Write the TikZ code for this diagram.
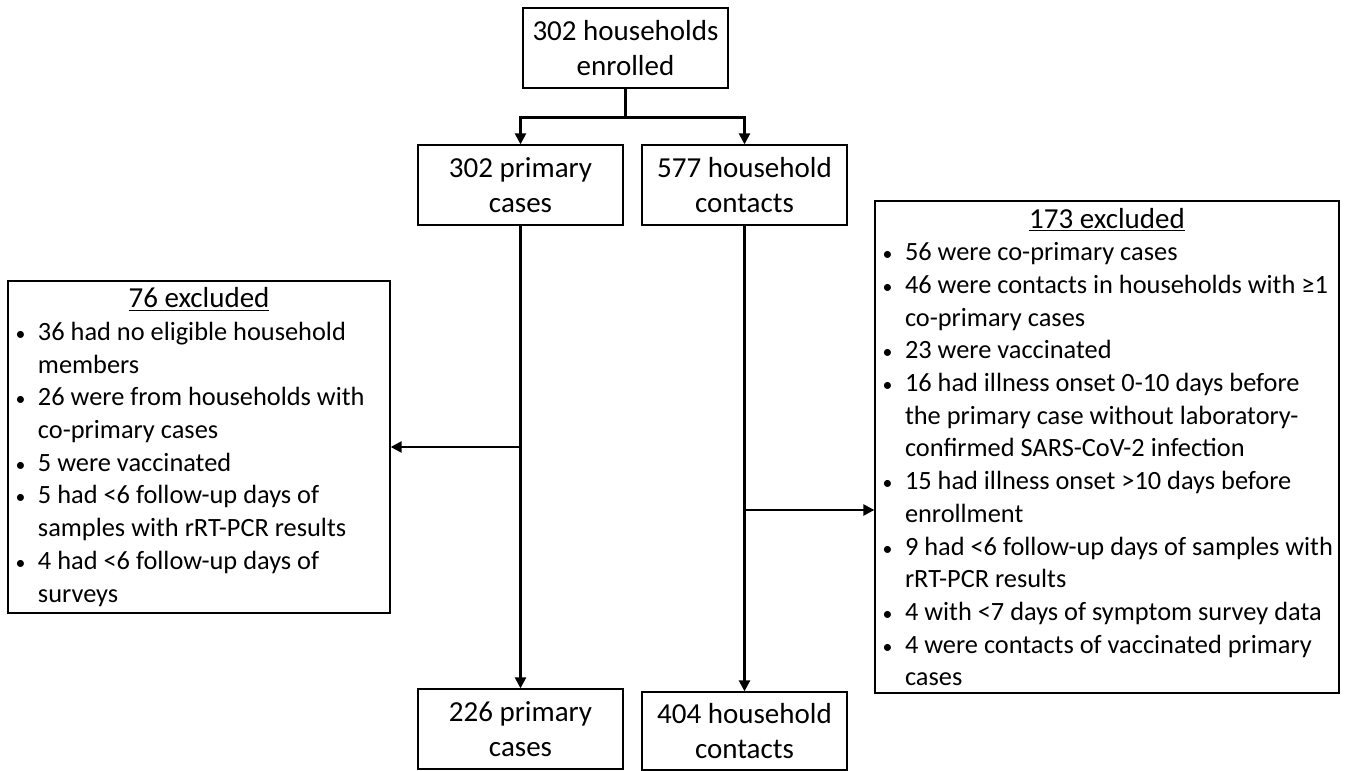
\documentclass[tikz,border=0pt]{standalone}
\usepackage{fontspec}
\setmainfont{Carlito}
\usetikzlibrary{arrows.meta}

\newcommand{\bul}{\makebox[0.5cm][l]{\hspace{1.5pt}\scalebox{0.75}{\textbullet}}}
\newcommand{\ind}{\hspace*{0.5cm}}
\newcommand{\extitle}[2]{\makebox[#1]{\fontsize{16.5}{18.6}\selectfont\underline{#2}}}

\begin{document}
\begin{tikzpicture}[
    flowbox/.style={draw, line width=0.75pt, minimum width=4.1cm, minimum height=1.6cm, align=center, inner sep=2pt, font=\fontsize{16.5}{20}\selectfont},
    exbox/.style={draw, line width=0.75pt, align=left, inner xsep=0.1cm, inner ysep=0pt, font=\fontsize{15}{18.6}\selectfont},
    trunk/.style={line width=1.4pt},
    flow/.style={line width=1.4pt, -{Triangle[length=2.2mm,width=2.2mm]}}
]
\useasboundingbox (0,0) rectangle (26.98,-15.42);

% Enrolled households
\node[flowbox] (hh) at (12.51,-0.96) {302 households\\enrolled};

% Primary cases and contacts at enrollment
\node[flowbox] (pc1) at (10.41,-3.70) {302 primary\\cases};
\node[flowbox] (hc1) at (14.89,-3.70) {577 household\\contacts};

% Split
\draw[trunk] (hh.south) -- ++(0,-0.58) coordinate (split);
\draw[flow] (split) -| (pc1.north);
\draw[flow] (split) -| (hc1.north);

% Excluded primary cases (left)
\node[exbox, minimum width=7.64cm, minimum height=6.64cm] (ex76) at (3.98,-8.94) {%
    \extitle{7.44cm}{76 excluded}\\
    \bul 36 had no eligible household\\
    \ind members\\
    \bul 26 were from households with\\
    \ind co-primary cases\\
    \bul 5 were vaccinated\\
    \bul 5 had <6 follow-up days of\\
    \ind samples with rRT-PCR results\\
    \bul 4 had <6 follow-up days of\\
    \ind surveys};

% Excluded contacts (right)
\node[exbox, minimum width=9.28cm, minimum height=9.84cm] (ex173) at (22.14,-8.94) {%
    \extitle{9.08cm}{173 excluded}\\
    \bul 56 were co-primary cases\\
    \bul 46 were contacts in households with ≥1\\
    \ind co-primary cases\\
    \bul 23 were vaccinated\\
    \bul 16 had illness onset 0-10 days before\\
    \ind the primary case without laboratory-\\
    \ind confirmed SARS-CoV-2 infection\\
    \bul 15 had illness onset >10 days before\\
    \ind enrollment\\
    \bul 9 had <6 follow-up days of samples with\\
    \ind rRT-PCR results\\
    \bul 4 with <7 days of symptom survey data\\
    \bul 4 were contacts of vaccinated primary\\
    \ind cases};

% Final sample
\node[flowbox] (pc2) at (10.41,-14.58) {226 primary\\cases};
\node[flowbox, minimum height=1.56cm] (hc2) at (14.89,-14.62) {404 household\\contacts};

\draw[flow] (pc1.south) -- (pc2.north);
\draw[flow] (hc1.south) -- (hc2.north);

% Exclusion arrows
\draw[flow] (ex76.east -| pc1.south) -- (ex76.east);
\coordinate (jc) at (14.89,-10.20);
\draw[flow] (jc) -- (jc -| ex173.west);
\end{tikzpicture}
\end{document}
